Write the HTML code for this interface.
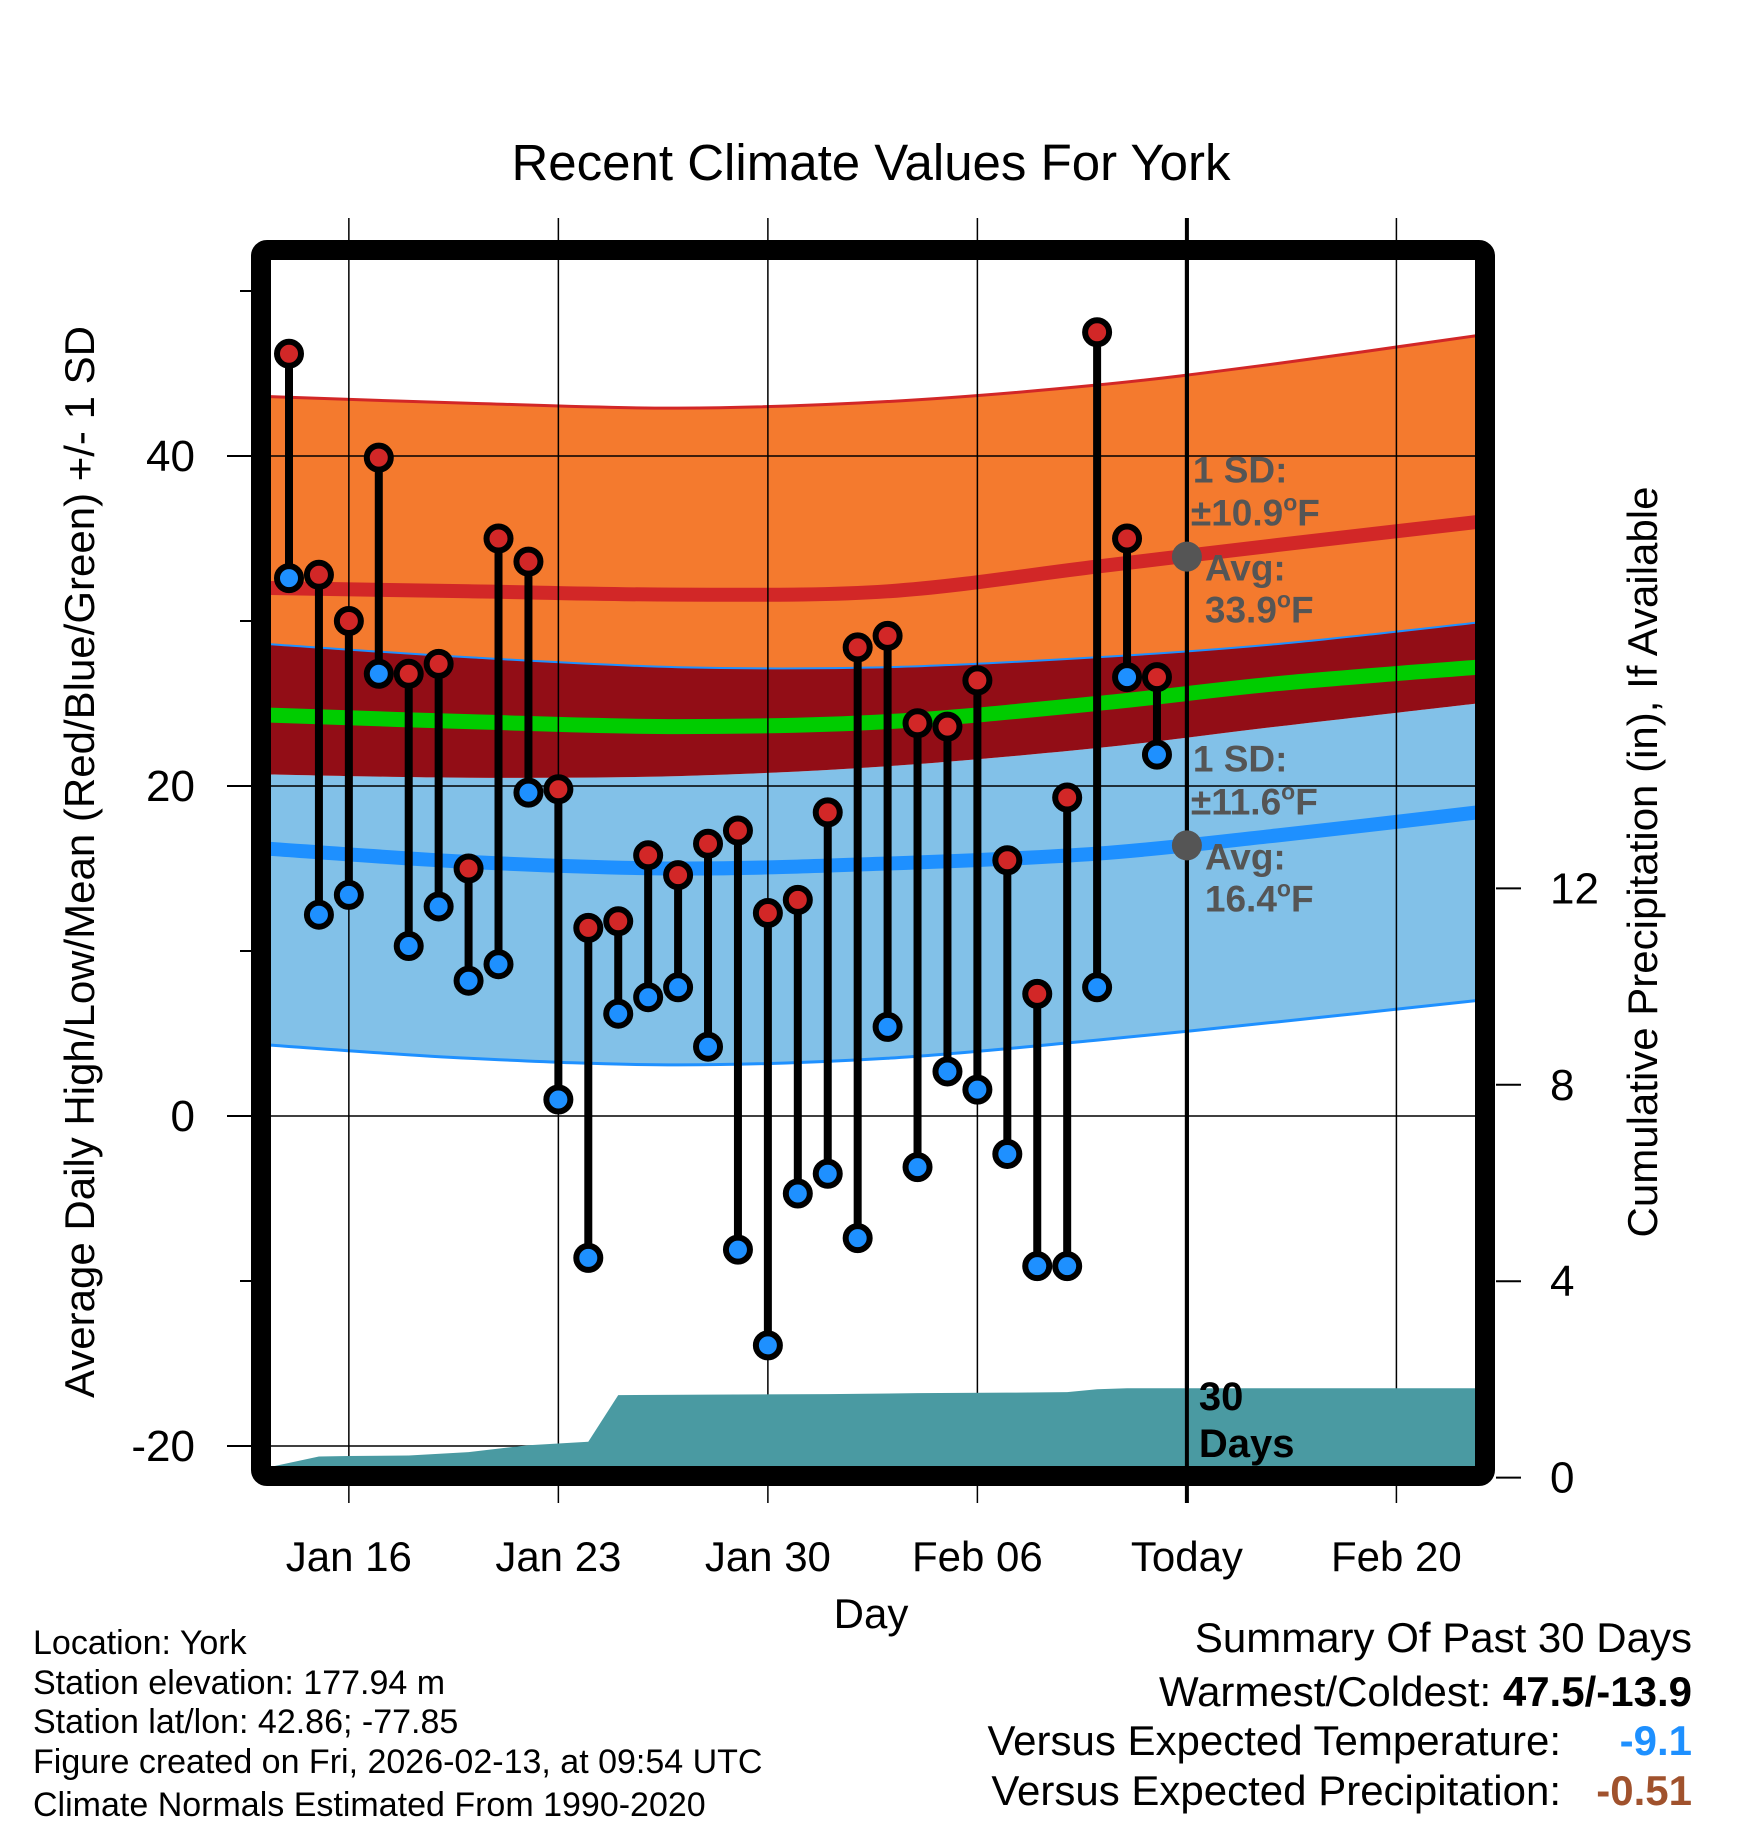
<!DOCTYPE html>
<html><head><meta charset="utf-8"><style>
html,body{margin:0;padding:0;background:#fff}
svg{display:block;font-family:"Liberation Sans",Arial,sans-serif}
</style></head><body>
<svg id="chart" width="1748" height="1828" viewBox="0 0 1748 1828">
<g id="bands"></g>
<g id="grid"></g>
<g id="precip"></g>
<g id="marks"></g>
<g id="axes"></g>
<text x="871" y="180" font-size="51" text-anchor="middle">Recent Climate Values For York</text>
<text transform="translate(94,862) rotate(-90)" font-size="42" text-anchor="middle">Average Daily High/Low/Mean (Red/Blue/Green) +/- 1 SD</text>
<text transform="translate(1657,862) rotate(-90)" font-size="42" text-anchor="middle">Cumulative Precipitation (in), If Available</text>
<text x="871" y="1628" font-size="42" text-anchor="middle">Day</text>
<g font-size="34">
<text x="33" y="1654">Location: York</text>
<text x="33" y="1694">Station elevation: 177.94 m</text>
<text x="33" y="1733">Station lat/lon: 42.86; -77.85</text>
<text x="33" y="1773">Figure created on Fri, 2026-02-13, at 09:54 UTC</text>
<text x="33" y="1816">Climate Normals Estimated From 1990-2020</text>
</g>
<g font-size="42" text-anchor="end">
<text x="1692" y="1652">Summary Of Past 30 Days</text>
<text x="1692" y="1706">Warmest/Coldest: <tspan font-weight="bold">47.5/-13.9</tspan></text>
<text x="1561" y="1755">Versus Expected Temperature:</text>
<text x="1692" y="1755" fill="#1e90ff" font-weight="bold">-9.1</text>
<text x="1561" y="1805">Versus Expected Precipitation:</text>
<text x="1692" y="1805" fill="#a0522d" font-weight="bold">-0.51</text>
</g>
</svg>
<script>
const days=["Jan14","Jan15","Jan16","Jan17","Jan18","Jan19","Jan20","Jan21","Jan22","Jan23","Jan24","Jan25","Jan26","Jan27","Jan28","Jan29","Jan30","Jan31","Feb01","Feb02","Feb03","Feb04","Feb05","Feb06","Feb07","Feb08","Feb09","Feb10","Feb11","Feb12"];
const highs=[46.2,32.8,30.0,39.9,26.8,27.4,15.0,35.0,33.6,19.8,11.4,11.8,15.8,14.6,16.5,17.3,12.3,13.1,18.4,28.4,29.1,23.8,23.6,26.4,15.5,7.4,19.3,47.5,35.0,26.6];
const lows=[32.6,12.2,13.4,26.8,10.3,12.7,8.2,9.2,19.6,1.0,-8.6,6.2,7.2,7.8,4.2,-8.1,-13.9,-4.7,-3.5,-7.4,5.4,-3.1,2.7,1.6,-2.3,-9.1,-9.1,7.8,26.6,21.9];
const normDays=[-0.7,6,13,20,27,33,39.7];
const hiUpper=[43.6,43.2,42.9,43.3,44.3,45.6,47.3];
const hiAvg=[32.0,31.8,31.6,31.8,33.3,34.6,36.0];
const hiLower=[28.6,27.8,27.2,27.2,27.8,28.6,29.9];
const loUpper=[20.7,20.5,20.6,21.2,22.3,23.6,25.0];
const meanLine=[24.3,23.9,23.6,23.9,25.0,26.2,27.2];
const loAvg=[16.2,15.4,15.0,15.3,15.9,17.0,18.4];
const loLower=[4.3,3.5,3.1,3.5,4.6,5.7,7.0];
const precipDays=[-0.7,1,2,4,6,8,10,11,14,18,21,24,26,27,28,30,39.7];
const precipVals=[0.2,0.43,0.44,0.45,0.52,0.66,0.73,1.68,1.69,1.7,1.72,1.73,1.74,1.8,1.82,1.82,1.82];
const xTickDays=[2,9,16,23,30,37];
const xTickLabels=["Jan 16","Jan 23","Jan 30","Feb 06","Today","Feb 20"];
const yTicks=[40,20,0,-20];
const yMinor=[50,30,10,-10];
const y2Ticks=[0,4,8,12];
const todayDay=30, todayHiAvg=33.9, todayLoAvg=16.4;

const NS="http://www.w3.org/2000/svg";
const X=d=>289+d*29.93;
const Y=v=>1116-v*16.5;
const Y2=p=>1477.6-p*49.1;
const L=270,R=1476,T=260,B=1467;
function mk(tag,attrs,parent){const e=document.createElementNS(NS,tag);for(const k in attrs)e.setAttribute(k,attrs[k]);parent.appendChild(e);return e;}
function smooth(xs,ys){const pts=xs.map((d,i)=>[X(d),Y(ys[i])]);let s="M"+pts[0][0]+","+pts[0][1];
 for(let i=0;i<pts.length-1;i++){const p0=pts[Math.max(0,i-1)],p1=pts[i],p2=pts[i+1],p3=pts[Math.min(pts.length-1,i+2)];
 s+=` C${p1[0]+(p2[0]-p0[0])/6},${p1[1]+(p2[1]-p0[1])/6} ${p2[0]-(p3[0]-p1[0])/6},${p2[1]-(p3[1]-p1[1])/6} ${p2[0]},${p2[1]}`;}return s;}
function band(upper,lower){const a=smooth(normDays,upper);const rx=normDays.slice().reverse(),ry=lower.slice().reverse();return a+" L"+smooth(rx,ry).slice(1)+" Z";}
const bands=document.getElementById('bands');
const cp=mk('clipPath',{id:'pc'},bands);
mk('rect',{x:L,y:T,width:R-L,height:B-T},cp);
const bg=mk('g',{'clip-path':'url(#pc)'},bands);
let e;
e=mk('path',{d:band(hiUpper,hiLower),fill:'#f47a2e'},bg);

e=mk('path',{d:band(loUpper,loLower),fill:'#82c1e8'},bg);

e=mk('path',{d:band(hiLower,loUpper),fill:'#920d16'},bg);

e=mk('path',{d:smooth(normDays,hiUpper),fill:'none',stroke:'#d22727','stroke-width':3},bg);

e=mk('path',{d:smooth(normDays,hiLower),fill:'none',stroke:'#1e90ff','stroke-width':2},bg);

e=mk('path',{d:smooth(normDays,loLower),fill:'none',stroke:'#1e90ff','stroke-width':3},bg);

e=mk('path',{d:smooth(normDays,hiAvg),fill:'none',stroke:'#d22727','stroke-width':14},bg);

e=mk('path',{d:smooth(normDays,meanLine),fill:'none',stroke:'#00cc00','stroke-width':15},bg);

e=mk('path',{d:smooth(normDays,loAvg),fill:'none',stroke:'#1e90ff','stroke-width':14},bg);


const grid=document.getElementById('grid');
xTickDays.forEach((d,i)=>{const g=mk('line',{x1:X(d),x2:X(d),y1:218,y2:1503,stroke:'#000','stroke-width':d===todayDay?4:1.5},grid);
 });
yTicks.forEach(v=>{const g=mk('line',{x1:L,x2:R,y1:Y(v),y2:Y(v),stroke:'#000','stroke-width':1.5},grid);
 });

const pg=document.getElementById('precip');
let pd="M"+L+","+B;
precipDays.forEach((d,i)=>{pd+=" L"+Math.max(L,Math.min(R,X(d)))+","+Math.min(B,Y2(precipVals[i]));});
pd+=" L"+R+","+B+" Z";
e=mk('path',{d:pd,fill:'#4a9aa2'},pg);

e=mk('line',{x1:X(todayDay),x2:X(todayDay),y1:T,y2:B,stroke:'#000','stroke-width':4},pg);


const mg=document.getElementById('marks');
days.forEach((d,i)=>{const x=X(i);
 const s=mk('line',{x1:x,x2:x,y1:Y(highs[i]),y2:Y(lows[i]),stroke:'#000','stroke-width':8},mg);
 });
days.forEach((d,i)=>{const x=X(i);
 const c1=mk('circle',{cx:x,cy:Y(lows[i]),r:12,fill:'#1e90ff',stroke:'#000','stroke-width':6},mg);
 
 const c2=mk('circle',{cx:x,cy:Y(highs[i]),r:12,fill:'#d22727',stroke:'#000','stroke-width':6},mg);
 });
e=mk('circle',{cx:X(todayDay),cy:Y(todayHiAvg),r:15,fill:'#555'},mg);

e=mk('circle',{cx:X(todayDay),cy:Y(todayLoAvg),r:15,fill:'#555'},mg);

function txt(x,y,s,attrs,name,parent){const t=mk('text',Object.assign({x:x,y:y},attrs),parent);t.textContent=s;return t;}
const ann={fill:'#555','font-weight':'bold','font-size':37};
const tx=X(todayDay);
function deg(t){let ts=mk('tspan',{dy:-15,'font-size':23},t);ts.textContent="o";ts=mk('tspan',{dy:15},t);ts.textContent="F";}
txt(tx+6,Y(todayHiAvg)-74,"1 SD:",ann,'high-sd-label',mg);
deg(txt(tx+4,Y(todayHiAvg)-31,"±10.9",ann,'high-sd-value',mg));
txt(tx+18,Y(todayHiAvg)+24,"Avg:",ann,'high-avg-label',mg);
deg(txt(tx+18,Y(todayHiAvg)+66,"33.9",ann,'high-avg-value',mg));
txt(tx+6,Y(todayLoAvg)-74,"1 SD:",ann,'low-sd-label',mg);
deg(txt(tx+4,Y(todayLoAvg)-31,"±11.6",ann,'low-sd-value',mg));
txt(tx+18,Y(todayLoAvg)+24,"Avg:",ann,'low-avg-label',mg);
deg(txt(tx+18,Y(todayLoAvg)+66,"16.4",ann,'low-avg-value',mg));
txt(tx+12,1410,"30",{'font-weight':'bold','font-size':40},'days-label',mg);
txt(tx+12,1457,"Days",{'font-weight':'bold','font-size':40},'days-label-2',mg);

const ax=document.getElementById('axes');
e=mk('rect',{x:261,y:250,width:1224,height:1226,rx:6,fill:'none',stroke:'#000','stroke-width':20},ax);

yTicks.forEach(v=>{const l=mk('line',{x1:227,x2:252,y1:Y(v),y2:Y(v),stroke:'#000','stroke-width':2},ax);
 
 txt(195,Y(v)+15,String(v),{'font-size':44,'text-anchor':'end'},'y-tick-label',ax);});
yMinor.forEach(v=>{const l=mk('line',{x1:240,x2:252,y1:Y(v),y2:Y(v),stroke:'#000','stroke-width':2},ax);
 });
y2Ticks.forEach(v=>{const l=mk('line',{x1:1496,x2:1521,y1:Y2(v),y2:Y2(v),stroke:'#000','stroke-width':2},ax);
 
 txt(1550,Y2(v)+15,String(v),{'font-size':44},'y2-tick-label',ax);});
xTickDays.forEach((d,i)=>{txt(X(d),1571,xTickLabels[i],{'font-size':42,'text-anchor':'middle'},'x-tick-label',ax);});
</script>
</body></html>
